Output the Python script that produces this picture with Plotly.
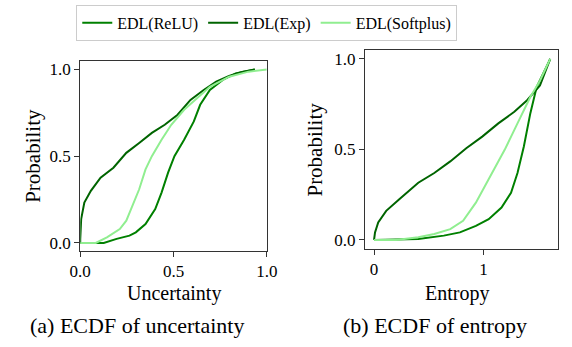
import plotly.graph_objects as go

W, H = 572, 347

# ---- Data: ECDF of uncertainty (panel a) ----
unc_exp_x = [0, 0.0, 0.005, 0.022, 0.057, 0.109, 0.178, 0.247, 0.316, 0.384, 0.453, 0.522, 0.591, 0.66, 0.729, 0.798, 0.867, 0.936]
unc_exp_y = [0, 0.02, 0.137, 0.233, 0.30, 0.376, 0.433, 0.519, 0.576, 0.634, 0.681, 0.739, 0.824, 0.88, 0.929, 0.962, 0.985, 1.0]
unc_relu_x = [0, 0.126, 0.195, 0.264, 0.298, 0.35, 0.402, 0.436, 0.471, 0.505, 0.557, 0.609, 0.643, 0.695, 0.764, 0.833, 0.936]
unc_relu_y = [0, 0, 0.023, 0.042, 0.061, 0.109, 0.195, 0.29, 0.405, 0.5, 0.595, 0.70, 0.796, 0.882, 0.939, 0.977, 1.0]
unc_soft_x = [0, 0.083, 0.143, 0.212, 0.247, 0.281, 0.316, 0.35, 0.384, 0.436, 0.488, 0.557, 0.626, 0.695, 0.798, 0.902, 1.0]
unc_soft_y = [0, 0, 0.032, 0.08, 0.128, 0.214, 0.309, 0.424, 0.5, 0.595, 0.681, 0.767, 0.834, 0.90, 0.958, 0.987, 1.0]

# ---- Data: ECDF of entropy (panel b) ----
ent_exp_x = [0, 0.009, 0.038, 0.111, 0.228, 0.316, 0.404, 0.55, 0.696, 0.842, 0.988, 1.135, 1.281, 1.398, 1.515, 1.609]
ent_exp_y = [0, 0.042, 0.097, 0.161, 0.224, 0.27, 0.316, 0.37, 0.434, 0.507, 0.571, 0.644, 0.708, 0.772, 0.854, 1.0]
ent_relu_x = [0, 0.404, 0.637, 0.784, 0.93, 1.047, 1.164, 1.251, 1.31, 1.368, 1.427, 1.485, 1.544, 1.609]
ent_relu_y = [0, 0.005, 0.024, 0.042, 0.078, 0.115, 0.179, 0.261, 0.37, 0.516, 0.699, 0.845, 0.918, 1.0]
ent_soft_x = [0, 0.2, 0.404, 0.55, 0.696, 0.813, 0.93, 1.047, 1.193, 1.31, 1.427, 1.515, 1.609]
ent_soft_y = [0, 0, 0.015, 0.033, 0.06, 0.106, 0.206, 0.334, 0.498, 0.644, 0.79, 0.88, 1.0]

names = ["EDL(ReLU)", "EDL(Exp)", "EDL(Softplus)"]
colors = ["#008000", "#006400", "#90ee90"]

font_family = "Liberation Serif"

fig = go.Figure()

panel_a = [(unc_relu_x, unc_relu_y), (unc_exp_x, unc_exp_y), (unc_soft_x, unc_soft_y)]
panel_b = [(ent_relu_x, ent_relu_y), (ent_exp_x, ent_exp_y), (ent_soft_x, ent_soft_y)]

for i, (x, y) in enumerate(panel_a):
    fig.add_trace(go.Scatter(x=x, y=y, mode="lines", name=names[i],
                             line=dict(color=colors[i], width=2),
                             xaxis="x", yaxis="y", showlegend=True))
for i, (x, y) in enumerate(panel_b):
    fig.add_trace(go.Scatter(x=x, y=y, mode="lines", name=names[i],
                             line=dict(color=colors[i], width=2),
                             xaxis="x2", yaxis="y2", showlegend=False))

def px_x(p):
    return p / W

def px_y(p):
    return 1 - p / H

axis_common = dict(showline=True, mirror=True, linecolor="#333", linewidth=1,
                   ticks="outside", ticklen=5, tickcolor="#333", showgrid=False,
                   zeroline=False, tickfont=dict(family=font_family, size=17, color="black"))

fig.update_layout(
    width=W, height=H, margin=dict(l=0, r=0, t=0, b=0),
    plot_bgcolor="white", paper_bgcolor="white",
    font=dict(family=font_family, color="black"),
    xaxis=dict(domain=[px_x(72), px_x(266)], range=[0, 1], tickvals=[0, 0.5, 1],
               ticktext=["0.0", "0.5", "1.0"], anchor="y", **axis_common),
    yaxis=dict(domain=[px_y(252), px_y(61)], range=[-0.0457, 1.0457], tickvals=[0, 0.5, 1],
               ticktext=["0.0", "0.5", "1.0"], anchor="x", **axis_common),
    xaxis2=dict(domain=[px_x(368), px_x(569)], range=[-0.084, 1.681], tickvals=[0, 1],
                ticktext=["0", "1"], anchor="y2", **axis_common),
    yaxis2=dict(domain=[px_y(250), px_y(49.5)], range=[-0.049, 1.049], tickvals=[0, 0.5, 1],
                ticktext=["0.0", "0.5", "1.0"], anchor="x2", **axis_common),
    legend=dict(orientation="h", x=px_x(266), xanchor="center", y=px_y(4), yanchor="top",
                bordercolor="#cccccc", borderwidth=1, bgcolor="white",
                font=dict(family=font_family, size=16, color="black"),
                itemwidth=30, tracegroupgap=0),
)

ann = [
    dict(text="Probability", x=px_x(22), y=px_y(156), textangle=-90, size=21),
    dict(text="Probability", x=px_x(316), y=px_y(150), textangle=-90, size=21),
    dict(text="Uncertainty", x=px_x(169), y=px_y(295), textangle=0, size=20),
    dict(text="Entropy", x=px_x(464), y=px_y(295), textangle=0, size=20),
    dict(text="(a) ECDF of uncertainty", x=px_x(131), y=px_y(327), textangle=0, size=22),
    dict(text="(b) ECDF of entropy", x=px_x(441), y=px_y(327), textangle=0, size=22),
]
for a in ann:
    fig.add_annotation(text=a["text"], x=a["x"], y=a["y"], xref="paper", yref="paper",
                       xanchor="center", yanchor="middle", showarrow=False,
                       textangle=a["textangle"],
                       font=dict(family=font_family, size=a["size"], color="black"))

fig.write_html("out.html")
